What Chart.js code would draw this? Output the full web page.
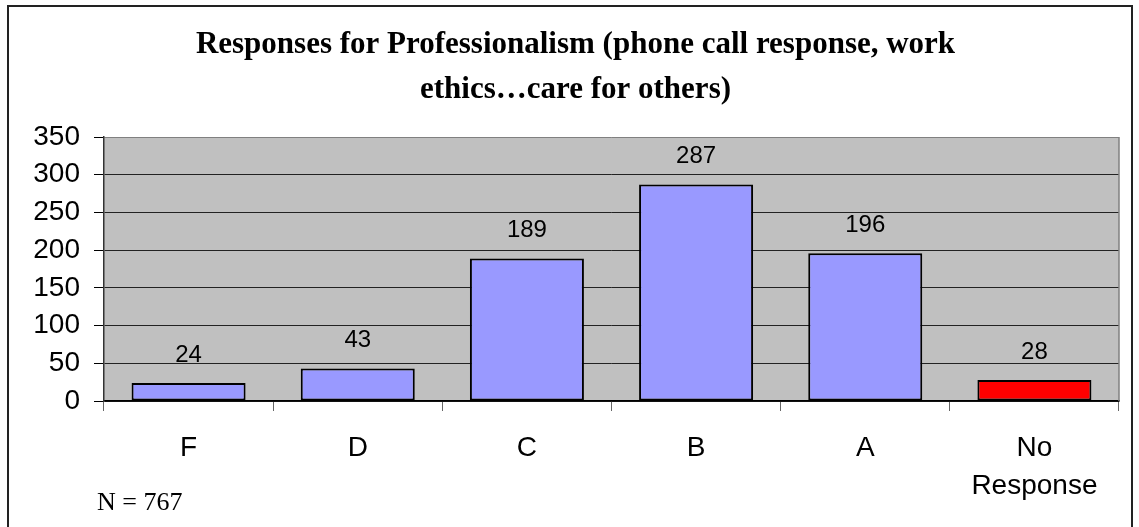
<!DOCTYPE html>
<html><head><meta charset="utf-8">
<script src="https://cdn.jsdelivr.net/npm/chart.js@4"></script>
<style>html,body{margin:0;padding:0;background:#fff;overflow:hidden}#wrap{position:absolute;left:0;top:0;width:1139px;height:527px}</style>
</head><body><div id="wrap"><canvas id="c"></canvas></div>
<script>
const categories = ['F', 'D', 'C', 'B', 'A', ['No', 'Response']];
const responses = [24, 43, 189, 287, 196, 28];
const titleLines = ['Responses for Professionalism (phone call response, work', 'ethics\u2026care for others)'];
const yMax = 350;
const yStep = 50;
const footnote = 'N = 767';

const framePlugin = {
  id: 'frame',
  beforeDraw(chart) {
    const { ctx, chartArea: a } = chart;
    ctx.save();
    ctx.fillStyle = '#fff';
    ctx.fillRect(0, 0, chart.width, chart.height);
    ctx.strokeStyle = '#222';
    ctx.lineWidth = 2;
    ctx.strokeRect(8, 6, 1124, 560);
    ctx.fillStyle = '#C0C0C0';
    ctx.fillRect(a.left, a.top, a.right - a.left, a.bottom - a.top);
    ctx.restore();
  },
  beforeDatasetsDraw(chart) {
    const { ctx, chartArea: a } = chart;
    ctx.save();
    ctx.strokeStyle = '#808080';
    ctx.lineWidth = 1.5;
    ctx.beginPath();
    ctx.moveTo(a.right, a.top);
    ctx.lineTo(a.right, a.bottom);
    ctx.stroke();
    ctx.restore();
  },
  afterDatasetsDraw(chart) {
    const { ctx } = chart;
    const meta = chart.getDatasetMeta(0);
    ctx.save();
    ctx.fillStyle = '#000';
    ctx.font = '24px "Liberation Sans", Arial, sans-serif';
    ctx.textAlign = 'center';
    ctx.textBaseline = 'middle';
    meta.data.forEach((bar, i) => {
      ctx.fillText(String(chart.data.datasets[0].data[i]), bar.x, bar.y - 28);
    });
    ctx.font = '26px "Liberation Serif", "Times New Roman", serif';
    ctx.textAlign = 'left';
    ctx.textBaseline = 'alphabetic';
    ctx.fillText(footnote, 97, 510);
    ctx.restore();
  }
};

new Chart(document.getElementById('c'), {
  type: 'bar',
  data: {
    labels: categories,
    datasets: [{
      data: responses,
      backgroundColor: ctx => ctx.dataIndex === responses.length - 1 ? '#FF0000' : '#9999FF',
      borderColor: '#000',
      borderWidth: 2,
      borderSkipped: false,
      categoryPercentage: 1,
      barPercentage: 0.674
    }]
  },
  options: {
    responsive: true,
    maintainAspectRatio: false,
    animation: false,
    layout: { padding: { left: 32, right: 20, top: 0, bottom: 0 } },
    plugins: {
      legend: { display: false },
      tooltip: { enabled: false },
      title: {
        display: true,
        text: titleLines,
        color: '#000',
        font: { family: '"Liberation Serif", "Times New Roman", serif', size: 31, weight: 'bold', lineHeight: 45 / 31 },
        padding: { top: 22, bottom: 25 }
      }
    },
    scales: {
      x: {
        grid: { drawOnChartArea: false, drawTicks: true, tickLength: 10, color: '#666', offset: true },
        border: { color: '#000', width: 1.5 },
        ticks: {
          color: '#000',
          padding: 18,
          font: { family: '"Liberation Sans", Arial, sans-serif', size: 28, lineHeight: 38 / 28 }
        },
        afterFit(scale) { scale.height = 126; }
      },
      y: {
        min: 0,
        max: yMax,
        grid: {
          color: c => (c.tick && c.tick.value === yMax) ? '#808080' : '#222',
          tickColor: '#000',
          tickLength: 10,
          lineWidth: 1
        },
        border: { color: '#333', width: 1.5 },
        ticks: {
          stepSize: yStep,
          color: '#000',
          padding: 14,
          font: { family: '"Liberation Sans", Arial, sans-serif', size: 28 }
        },
        afterFit(scale) { scale.width = 72; }
      }
    }
  },
  plugins: [framePlugin]
});
</script>
</body></html>
